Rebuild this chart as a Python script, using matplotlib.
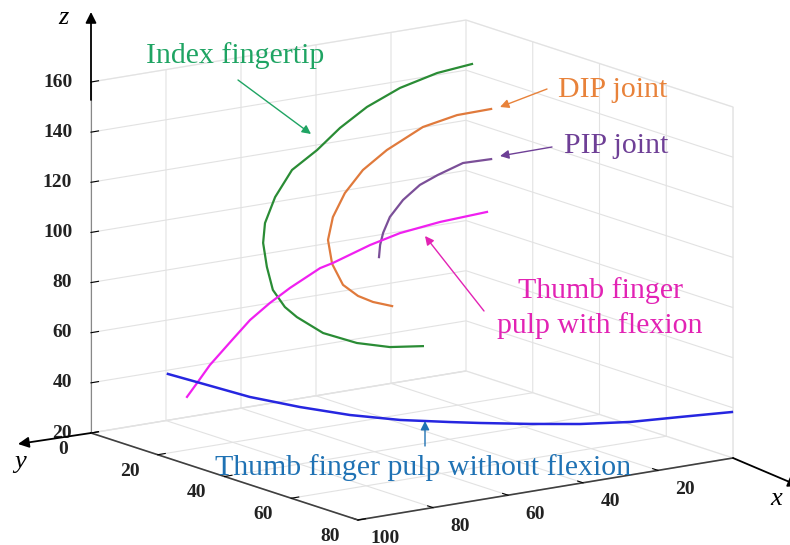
import matplotlib.pyplot as plt
from matplotlib.patches import FancyArrowPatch

W, H = 790, 545

# index finger trajectories
tip_x = [7.3, 16.6, 26.5, 35.3, 42.5, 48.6, 55.3, 59.8, 62.5, 63.0, 62.0, 60.4, 57.2, 54.0, 47.0, 38.0, 29.2, 20.4]
tip_y = [10.0, 10.0, 10.0, 10.0, 10.0, 10.0, 10.0, 10.0, 10.0, 10.0, 10.0, 10.0, 10.0, 10.0, 10.0, 10.0, 10.0, 10.0]
tip_z = [148.6, 147.3, 143.8, 138.4, 131.8, 124.5, 118.2, 108.5, 98.8, 91.0, 81.2, 71.6, 64.0, 59.2, 51.1, 44.9, 41.1, 39.3]

dip_x = [2.2, 11.3, 20.4, 30.0, 36.4, 41.2, 44.4, 45.7, 44.6, 41.7, 37.7, 33.7, 28.6]
dip_y = [10.0, 10.0, 10.0, 10.0, 10.0, 10.0, 10.0, 10.0, 10.0, 10.0, 10.0, 10.0, 10.0]
dip_z = [129.4, 129.2, 126.7, 119.9, 113.5, 105.5, 96.7, 87.9, 78.1, 69.0, 63.6, 60.2, 57.3]

pip_x = [2.2, 9.7, 16.4, 21.2, 25.7, 29.2, 31.0, 31.8, 32.1]
pip_y = [10.0, 10.0, 10.0, 10.0, 10.0, 10.0, 10.0, 10.0, 10.0]
pip_z = [109.4, 109.7, 106.6, 103.8, 98.9, 93.0, 87.1, 82.5, 77.7]

# thumb trajectories
flex_x = [83.3, 80.6, 77.2, 71.3, 66.5, 61.2, 55.8, 47.8, 44.4, 34.5, 26.5, 15.8, 3.3]
flex_y = [10.0, 10.0, 10.0, 10.0, 10.0, 10.0, 10.0, 10.0, 10.0, 10.0, 10.0, 10.0, 10.0]
flex_z = [34.6, 39.5, 45.8, 54.3, 61.1, 66.6, 71.3, 77.2, 78.4, 83.1, 85.9, 87.7, 88.6]

noflex_x = [80.2, 79.4, 78.2, 74.8, 70.3, 64.1, 56.4, 51.6, 43.3, 34.5, 24.5, 13.0, 1.1]
noflex_y = [0.8, 9.6, 23.1, 34.3, 44.2, 52.3, 58.6, 62.2, 67.8, 72.9, 76.7, 78.7, 80.9]
noflex_z = [39.0, 39.0, 39.0, 39.0, 39.0, 39.0, 39.0, 39.0, 39.0, 39.0, 39.0, 39.0, 39.0]

x_ticks = [20, 40, 60, 80, 100]
y_ticks = [0, 20, 40, 60, 80]
z_ticks = [20, 40, 60, 80, 100, 120, 140, 160]

plt.rcParams['grid.color'] = '#e2e2e2'
plt.rcParams['grid.linewidth'] = 0.8


def fig_xy(px, py):
    # pixel (y down) -> figure fraction
    return px / W, 1 - py / H


def arrow(fig, p0, p1, color, lw=1.0, scale=13):
    a = FancyArrowPatch(fig_xy(*p0), fig_xy(*p1), transform=fig.transFigure,
                        arrowstyle='-|>', mutation_scale=scale, lw=lw,
                        color=color, shrinkA=0, shrinkB=0)
    fig.add_artist(a)


def plot_trajectories():
    fig = plt.figure(figsize=(W / 100, H / 100), dpi=100)
    ax = fig.add_axes([-0.15373, -0.17622, 1.32578, 1.32578], projection='3d', proj_type='ortho')
    ax.set_xlim(0, 100)
    ax.set_ylim(0, 80)
    ax.set_zlim(20, 160)
    ax.set_box_aspect((460.4, 460.2, 360.8))
    ax.view_init(elev=13.421, azim=54.537)

    ax.plot(tip_x, tip_y, tip_z, color='#2a8c35', lw=1.6)
    ax.plot(dip_x, dip_y, dip_z, color='#e07a3c', lw=1.6)
    ax.plot(pip_x, pip_y, pip_z, color='#7b4f98', lw=1.6)
    ax.plot(flex_x, flex_y, flex_z, color='#f020f0', lw=1.6)
    ax.plot(noflex_x, noflex_y, noflex_z, color='#2626e0', lw=1.8)

    ax.set_xticks(x_ticks)
    ax.set_yticks(y_ticks)
    ax.set_zticks(z_ticks)

    for axis in (ax.xaxis, ax.yaxis, ax.zaxis):
        axis.set_tick_params(labelbottom=False, labelleft=False)
        axis.pane.set_facecolor((1, 1, 1, 0))
        axis.pane.set_edgecolor('#e2e2e2')
        axis._axinfo['tick']['inward_factor'] = 0.0
        axis._axinfo['tick']['outward_factor'] = 0.25
        axis._axinfo['tick']['color'] = '#555555'
    ax.xaxis.line.set_color('#404040')
    ax.yaxis.line.set_color('#404040')
    ax.zaxis.line.set_color('#888888')
    ax.xaxis.line.set_linewidth(1.2)
    ax.yaxis.line.set_linewidth(1.2)

    # tick labels placed next to the box edges
    tick_font = dict(family='Liberation Serif', fontweight='bold', fontsize=14, color='#222222')
    for v in x_ticks:
        ax.text(v, 88.2, 16.0, str(v), ha='center', va='center', **tick_font)
    for v in y_ticks:
        ax.text(107.5, v, 15.3, str(v), ha='center', va='center', **tick_font)
    for v in z_ticks:
        ax.text(105.0, 0, v + 1.2, str(v), ha='right', va='center', **tick_font)

    # axis arrows
    arrow(fig, (91, 100), (91, 12), 'black', lw=1.3, scale=16)
    arrow(fig, (91, 433), (18, 444), 'black', lw=1.3, scale=16)
    arrow(fig, (733, 458), (799, 486), 'black', lw=1.3, scale=16)
    letter = dict(family='Liberation Serif', style='italic', fontsize=19, ha='center', va='center')
    fig.text(*fig_xy(63, 18), 'z', **letter)
    fig.text(*fig_xy(20, 462), 'y', **letter)
    fig.text(*fig_xy(776, 499), 'x', **letter)

    # annotations
    note = dict(family='Liberation Serif', fontsize=21.5, va='baseline')
    fig.text(*fig_xy(235, 63), 'Index fingertip', color='#1fa463', ha='center', **note)
    arrow(fig, (238, 80), (311, 134), '#1fa463')
    fig.text(*fig_xy(558, 97), 'DIP joint', color='#e8823a', ha='left', **note)
    arrow(fig, (547, 89), (500, 107), '#e8823a')
    fig.text(*fig_xy(564, 153), 'PIP joint', color='#6e3f96', ha='left', **note)
    arrow(fig, (552, 147), (500, 156), '#6e3f96')
    fig.text(*fig_xy(600, 298), 'Thumb finger', color='#e223b4', ha='center', **note)
    fig.text(*fig_xy(600, 333), 'pulp with flexion', color='#e223b4', ha='center', **note)
    arrow(fig, (484, 311), (425, 236), '#e223b4')
    fig.text(*fig_xy(423, 475), 'Thumb finger pulp without flexion', color='#1f72b4', ha='center', **note)
    arrow(fig, (425, 446), (425, 421), '#1f72b4')

    plt.savefig('out.png')


if __name__ == '__main__':
    plot_trajectories()
